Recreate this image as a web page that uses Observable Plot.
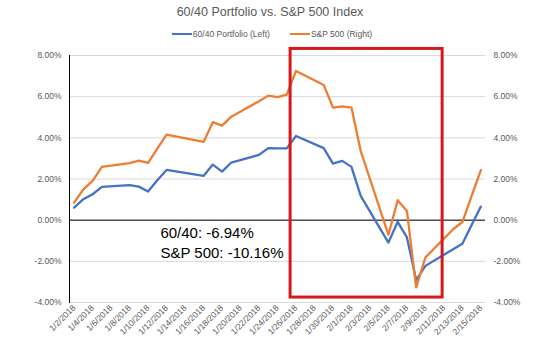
<!DOCTYPE html>
<html>
<head>
<meta charset="utf-8">
<script src="https://cdn.jsdelivr.net/npm/d3@7"></script>
<script src="https://cdn.jsdelivr.net/npm/@observablehq/plot@0.6"></script>
<style>
  html, body { margin: 0; padding: 0; background: #fff; }
  body { width: 536px; height: 355px; overflow: hidden; font-family: "Liberation Sans", Arial, sans-serif; }
  #title { height: 25px; line-height: 25px; text-align: center; font-size: 12.5px; color: #595959; padding-left: 4px; }
  #legend { height: 18px; display: flex; justify-content: center; align-items: center; font-size: 8.5px; color: #595959; padding-left: 8px; }
  .item { display: flex; align-items: center; margin: 0 10px; }
  .sw { width: 20px; height: 2.5px; margin-right: 1px; }
</style>
</head>
<body>
<div id="title">60/40 Portfolio vs. S&amp;P 500 Index</div>
<div id="legend"></div>
<div id="chart"></div>
<script>
// ---- data (percent) ----
const dates = ["2018-01-02","2018-01-03","2018-01-04","2018-01-05","2018-01-08","2018-01-09","2018-01-10","2018-01-11","2018-01-12","2018-01-16","2018-01-17","2018-01-18","2018-01-19","2018-01-22","2018-01-23","2018-01-24","2018-01-25","2018-01-26","2018-01-29","2018-01-30","2018-01-31","2018-02-01","2018-02-02","2018-02-05","2018-02-06","2018-02-07","2018-02-08","2018-02-09","2018-02-12","2018-02-13","2018-02-14","2018-02-15"];
const portfolio = [0.61,1.02,1.26,1.62,1.70,1.63,1.39,1.94,2.44,2.15,2.70,2.36,2.80,3.17,3.50,3.49,3.49,4.09,3.50,2.75,2.88,2.59,1.18,-1.09,-0.08,-0.84,-2.91,-2.22,-1.41,-1.15,-0.24,0.66];
const sp500 = [0.85,1.50,1.91,2.59,2.77,2.89,2.78,3.47,4.16,3.80,4.76,4.59,5.03,5.78,6.05,5.98,6.10,7.25,6.57,5.47,5.53,5.47,3.36,-0.71,0.97,0.45,-3.27,-1.81,-0.44,-0.09,1.18,2.43];
const seriesNames = ["60/40 Portfolio (Left)", "S&P 500 (Right)"];
const seriesColors = ["#4472C4", "#ED7D31"];
const xTickDates = ["2018-01-02","2018-01-04","2018-01-06","2018-01-08","2018-01-10","2018-01-12","2018-01-14","2018-01-16","2018-01-18","2018-01-20","2018-01-22","2018-01-24","2018-01-26","2018-01-28","2018-01-30","2018-02-01","2018-02-03","2018-02-05","2018-02-07","2018-02-09","2018-02-11","2018-02-13","2018-02-15"];
const yTicks = [-4, -2, 0, 2, 4, 6, 8];
const noteLines = ["60/40: -6.94%", "S&P 500: -10.16%"];
const noteAnchor = {date: "2018-01-11T08:00Z", value: -0.2};
const highlight = {start: "2018-01-25T10:00Z", end: "2018-02-10T20:40Z", low: -3.76, high: 8.32};
const xDomain = ["2018-01-01T12:00Z", "2018-02-15T12:00Z"];

// ---- build ----
const parse = s => new Date(s.length === 10 ? s + "T00:00Z" : s);
const rows = [];
dates.forEach((d, i) => {
  rows.push({date: parse(d), value: portfolio[i], series: seriesNames[0]});
});
dates.forEach((d, i) => {
  rows.push({date: parse(d), value: sp500[i], series: seriesNames[1]});
});

const legend = document.getElementById("legend");
seriesNames.forEach((n, i) => {
  const it = document.createElement("div");
  it.className = "item";
  it.innerHTML = `<span class="sw" style="background:${seriesColors[i]}"></span><span>${n.replace("&","&amp;")}</span>`;
  legend.appendChild(it);
});

const fmtDate = d3.utcFormat("%-m/%-d/%Y");
const fmtPct = d => d.toFixed(2) + "%";

const chart = Plot.plot({
  width: 536,
  height: 312,
  marginTop: 12,
  marginBottom: 53,
  marginLeft: 69,
  marginRight: 51,
  style: {background: "#fff", fontFamily: "'Liberation Sans', Arial, sans-serif", fontSize: "8.5px", color: "#595959", overflow: "visible"},
  x: {type: "utc", domain: xDomain.map(parse)},
  y: {domain: [-4, 8]},
  color: {domain: seriesNames, range: seriesColors},
  marks: [
    Plot.gridY(yTicks, {stroke: "#d9d9d9", strokeOpacity: 1, strokeWidth: 1}),
    Plot.ruleY([0], {stroke: "#000", strokeWidth: 1}),
    Plot.frame({anchor: "left", stroke: "#000", strokeWidth: 1}),
    Plot.axisY(yTicks, {anchor: "left", tickSize: 0, tickPadding: 8, tickFormat: fmtPct, fill: "#595959", label: null}),
    Plot.axisY(yTicks, {anchor: "right", tickSize: 0, tickPadding: 8, tickFormat: fmtPct, fill: "#595959", label: null}),
    Plot.axisX(xTickDates.map(parse), {tickSize: 0, tickPadding: 4, tickRotate: -45, tickFormat: fmtDate, fill: "#595959", label: null}),
    Plot.line(rows, {x: "date", y: "value", z: "series", stroke: "series", strokeWidth: 2.3, curve: "linear"}),
    Plot.rect([highlight], {x1: d => parse(d.start), x2: d => parse(d.end), y1: "low", y2: "high", fill: "none", stroke: "#d4191c", strokeWidth: 3}),
    Plot.text([noteLines.join("\n")], {x: () => parse(noteAnchor.date), y: () => noteAnchor.value, text: d => d, textAnchor: "start", lineAnchor: "top", lineHeight: 1.33, fontSize: 15, fill: "#000"})
  ]
});
document.getElementById("chart").appendChild(chart);
</script>
</body>
</html>
